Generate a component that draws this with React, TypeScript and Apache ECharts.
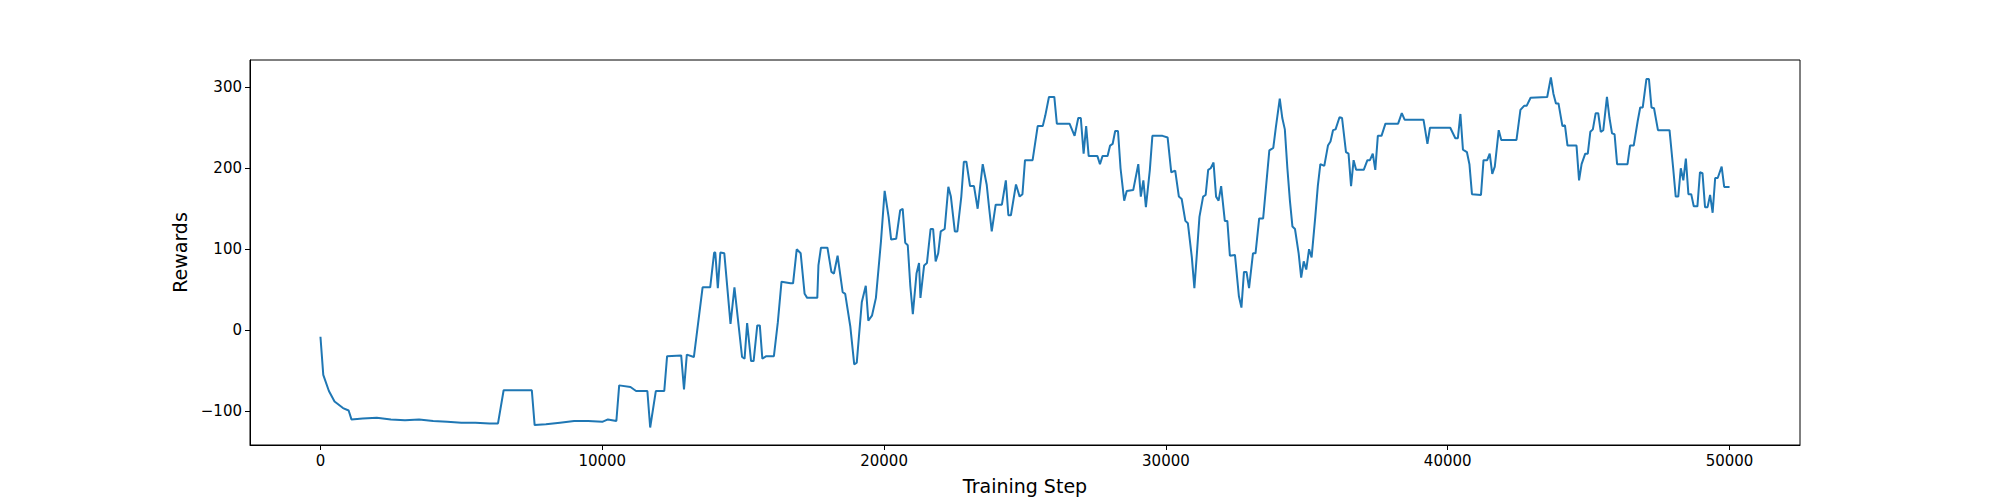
import React, { useEffect, useRef } from "react";
import * as echarts from "echarts";

const steps = [0,100,300,500,800,1000,1100,1500,2000,2500,3000,3500,4000,4500,5000,5500,6000,6300,6500,7000,7500,7600,8000,8500,9000,9500,10000,10200,10500,10600,11000,11200,11600,11700,11900,12200,12300,12800,12900,13000,13250,
13560,13830,13970,14010,14100,14190,14330,14550,14690,14960,15050,15140,15280,15370,15500,15590,15680,15820,16090,16230,16360,16680,16770,16900,17040,17180,17270,17630,17670,17760,17990,18130,18220,18350,18530,18620,18800,18940,19030,19210,19350,19440,19570,19710,19890,20020,20160,20250,20430,20570,20660,20750,20840,20930,21020,21150,21240,21290,21420,21520,21650,21740,21830,21920,22010,22150,22280,22370,22510,22600,22740,22830,22920,23050,23190,23320,23410,23500,23640,23730,23820,23960,24180,24320,24410,24500,24680,24810,24910,25000,25270,25450,25630,25720,25850,26040,26130,26580,26760,26890,26980,27080,27170,27260,27570,27660,27750,27930,28020,28110,28200,28300,28390,28520,28610,28840,29020,29110,29200,29290,29430,29520,29880,30060,30190,30330,30460,30560,30690,30780,30920,31010,31100,31190,31320,31410,31500,31590,31690,31780,31870,31960,32090,32180,32270,32450,32590,32680,32770,32860,32950,33090,33180,33310,33450,33670,33810,33900,34040,34130,34220,34310,34400,34490,34580,34710,34800,34890,34980,35080,35170,35300,35390,35480,35620,35750,35840,35930,36020,36160,36250,36390,36480,36570,36660,36750,37020,37150,37240,37340,37430,37520,37650,37790,38240,38370,38470,39140,39280,39370,40090,40270,40360,40450,40540,40680,40770,40860,41180,41270,41400,41490,41580,41670,41810,41900,42440,42580,42710,42800,42940,43530,43660,43750,43840,43930,44070,44160,44250,44570,44660,44750,44880,44970,45060,45150,45250,45340,45430,45520,45650,45740,45830,45920,46010,46380,46470,46600,46740,46830,46920,47050,47140,47230,47320,47460,47870,48000,48090,48180,48270,48360,48450,48540,48640,48730,48860,48950,49040,49130,49220,49310,49400,49490,49580,49720,49810,50000];

const rewards = [-8,-55,-75,-88,-96,-99,-110,-109,-108,-110,-111,-110,-112,-113,-114,-114,-115,-115,-74,-74,-74,-117,-116,-114,-112,-112,-113,-110,-112,-68,-70,-75,-75,-120,-75,-75,-32,-31,-73,-30,-33,
53,53,96,96,52,96,95,8,53,-33,-35,9,-38,-38,6,6,-35,-32,-32,10,60,58,58,100,95,45,40,40,80,102,102,72,70,92,47,45,5,-42,-40,35,55,12,18,40,110,172,140,112,113,148,150,108,105,55,20,70,83,40,80,83,125,125,85,95,122,125,177,165,122,122,165,208,208,178,178,150,178,205,180,150,122,155,155,185,142,142,180,165,168,210,210,252,252,265,288,288,255,255,240,262,262,218,252,215,215,205,215,215,228,230,246,246,200,160,172,173,205,165,185,152,198,240,240,238,195,197,165,162,135,132,90,52,95,140,165,167,198,200,207,165,160,178,135,135,92,93,42,28,72,72,52,95,95,138,138,222,225,250,286,262,248,200,160,128,125,95,65,85,75,100,90,140,178,205,203,228,233,247,248,263,262,220,218,178,210,198,198,210,210,218,198,240,240,255,255,268,260,260,230,250,250,237,237,267,223,220,205,168,167,210,210,218,193,202,247,235,235,272,277,277,287,288,312,292,280,280,252,253,228,228,185,205,218,218,245,248,268,268,245,247,288,262,243,242,205,205,228,228,258,275,275,310,310,275,274,247,247,200,165,165,200,185,212,168,168,153,153,195,194,152,152,167,145,188,188,202,177,177];

const xTicks = [0, 10000, 20000, 30000, 40000, 50000];
const yTicks = [-100, 0, 100, 200, 300];

const fmt = (v: number) => (v < 0 ? "\u2212" + String(-v) : String(v));

export default function App() {
  const ref = useRef<HTMLDivElement>(null);
  useEffect(() => {
    document.body.style.margin = "0";
    const chart = echarts.init(ref.current!, undefined, { renderer: "svg" });
    const font = "DejaVu Sans";
    chart.setOption({
      animation: false,
      backgroundColor: "#fff",
      grid: { left: 250, right: 200, top: 60, bottom: 55, show: true, borderColor: "#000", borderWidth: 1 },
      xAxis: {
        type: "value", min: -2500, max: 52500,
        name: "Training Step", nameLocation: "middle", nameGap: 31,
        nameTextStyle: { fontFamily: font, fontSize: 19, color: "#000" },
        splitLine: { show: false },
        axisLine: { show: true, onZero: false, lineStyle: { color: "#000" } },
        axisTick: { show: true, length: 5, lineStyle: { color: "#000" }, customValues: xTicks },
        axisLabel: { fontFamily: font, fontSize: 15, color: "#000", margin: 8, customValues: xTicks, formatter: fmt },
      },
      yAxis: {
        type: "value", min: -141.6, max: 333.6,
        name: "Rewards", nameLocation: "middle", nameGap: 60,
        nameTextStyle: { fontFamily: font, fontSize: 19, color: "#000" },
        splitLine: { show: false },
        axisLine: { show: true, onZero: false, lineStyle: { color: "#000" } },
        axisTick: { show: true, length: 5, lineStyle: { color: "#000" }, customValues: yTicks },
        axisLabel: { fontFamily: font, fontSize: 15, color: "#000", margin: 8, customValues: yTicks, formatter: fmt },
      },
      series: [{
        type: "line", showSymbol: false, symbol: "none",
        data: steps.map((s, i) => [s, rewards[i]]),
        lineStyle: { color: "#1f77b4", width: 2 },
      }],
    });
    return () => chart.dispose();
  }, []);
  return <div ref={ref} style={{ width: 2000, height: 500 }} />;
}
